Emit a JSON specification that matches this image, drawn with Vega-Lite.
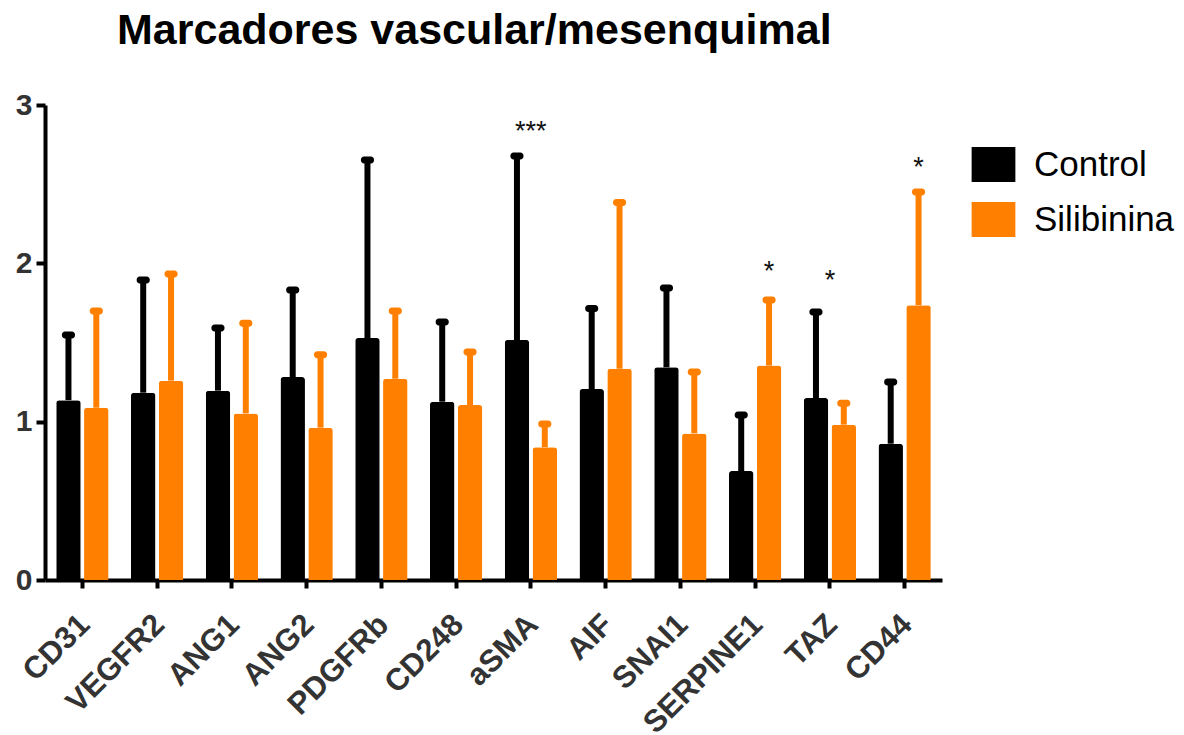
{
  "$schema": "https://vega.github.io/schema/vega-lite/v6.json",
  "width": 897,
  "height": 475,
  "autosize": {"type": "none"},
  "padding": {"left": 45, "top": 105, "right": 242, "bottom": 155},
  "background": "white",
  "config": {"view": {"stroke": null}, "font": "Liberation Sans"},
  "title": {
    "text": "Marcadores vascular/mesenquimal",
    "anchor": "start",
    "frame": "group",
    "dx": 72,
    "fontSize": 43,
    "fontWeight": "bold",
    "color": "black",
    "font": "Liberation Sans",
    "baseline": "alphabetic",
    "offset": 3
  },
  "datasets": {
    "bars": [
      {"gene": "CD31", "group": "Control", "mean": 1.136, "upper": 1.547},
      {"gene": "CD31", "group": "Silibinina", "mean": 1.088, "upper": 1.699},
      {"gene": "VEGFR2", "group": "Control", "mean": 1.183, "upper": 1.895},
      {"gene": "VEGFR2", "group": "Silibinina", "mean": 1.259, "upper": 1.932},
      {"gene": "ANG1", "group": "Control", "mean": 1.196, "upper": 1.591},
      {"gene": "ANG1", "group": "Silibinina", "mean": 1.052, "upper": 1.621},
      {"gene": "ANG2", "group": "Control", "mean": 1.282, "upper": 1.831},
      {"gene": "ANG2", "group": "Silibinina", "mean": 0.962, "upper": 1.423},
      {"gene": "PDGFRb", "group": "Control", "mean": 1.528, "upper": 2.653},
      {"gene": "PDGFRb", "group": "Silibinina", "mean": 1.271, "upper": 1.699},
      {"gene": "CD248", "group": "Control", "mean": 1.126, "upper": 1.629},
      {"gene": "CD248", "group": "Silibinina", "mean": 1.105, "upper": 1.44},
      {"gene": "aSMA", "group": "Control", "mean": 1.516, "upper": 2.678},
      {"gene": "aSMA", "group": "Silibinina", "mean": 0.838, "upper": 0.985},
      {"gene": "AIF", "group": "Control", "mean": 1.206, "upper": 1.714},
      {"gene": "AIF", "group": "Silibinina", "mean": 1.335, "upper": 2.385},
      {"gene": "SNAI1", "group": "Control", "mean": 1.343, "upper": 1.844},
      {"gene": "SNAI1", "group": "Silibinina", "mean": 0.926, "upper": 1.313},
      {"gene": "SERPINE1", "group": "Control", "mean": 0.688, "upper": 1.042},
      {"gene": "SERPINE1", "group": "Silibinina", "mean": 1.354, "upper": 1.768},
      {"gene": "TAZ", "group": "Control", "mean": 1.149, "upper": 1.692},
      {"gene": "TAZ", "group": "Silibinina", "mean": 0.981, "upper": 1.116},
      {"gene": "CD44", "group": "Control", "mean": 0.861, "upper": 1.25},
      {"gene": "CD44", "group": "Silibinina", "mean": 1.735, "upper": 2.45}
    ],
    "starsGroup": [
      {"gene": "aSMA", "label": "***", "pos": 2.781},
      {"gene": "TAZ", "label": "*", "pos": 1.836}
    ],
    "starsBar": [
      {"gene": "SERPINE1", "group": "Silibinina", "label": "*", "pos": 1.895},
      {"gene": "CD44", "group": "Silibinina", "label": "*", "pos": 2.552}
    ]
  },
  "encoding": {
    "x": {
      "field": "gene",
      "type": "nominal",
      "sort": ["CD31", "VEGFR2", "ANG1", "ANG2", "PDGFRb", "CD248", "aSMA", "AIF", "SNAI1", "SERPINE1", "TAZ", "CD44"],
      "scale": {"paddingInner": 0.3, "paddingOuter": 0.15},
      "axis": {
        "title": null,
        "labelAngle": -45,
        "labelAlign": "right",
        "labelBaseline": "alphabetic",
        "labelFontSize": 31,
        "labelFontWeight": "bold",
        "labelColor": "#333333",
        "labelFont": "Liberation Sans",
        "labelPadding": 38,
        "labelOffset": 9,
        "labelOverlap": false,
        "tickSize": 8,
        "tickWidth": 4,
        "tickColor": "black",
        "domainColor": "black",
        "domainWidth": 4,
        "grid": false
      }
    }
  },
  "layer": [
    {
      "data": {"name": "bars"},
      "mark": {"type": "bar", "cornerRadiusTopLeft": 3, "cornerRadiusTopRight": 3},
      "encoding": {
        "xOffset": {"field": "group", "type": "nominal", "scale": {"paddingInner": 0.12, "paddingOuter": 0}},
        "y": {
          "field": "mean",
          "type": "quantitative",
          "scale": {"domain": [0, 3], "nice": false},
          "axis": {
            "title": null,
            "values": [0, 1, 2, 3],
            "format": "d",
            "grid": false,
            "labelFontSize": 30,
            "labelFontWeight": "bold",
            "labelColor": "#333333",
            "labelFont": "Liberation Sans",
            "labelPadding": 4,
            "tickSize": 9,
            "tickWidth": 4,
            "tickColor": "black",
            "domainColor": "black",
            "domainWidth": 4
          }
        },
        "color": {
          "field": "group",
          "type": "nominal",
          "scale": {"domain": ["Control", "Silibinina"], "range": ["#000000", "#FF8000"]},
          "legend": {
            "title": null,
            "orient": "none",
            "legendX": 931,
            "legendY": 42,
            "padding": 0,
            "symbolType": "M-1.25,-1H1.25V1H-1.25Z",
            "symbolSize": 1225,
            "symbolStrokeWidth": 0,
            "labelFontSize": 35,
            "labelFont": "Liberation Sans",
            "labelColor": "black",
            "labelOffset": 23,
            "rowPadding": 19
          }
        }
      }
    },
    {
      "data": {"name": "bars"},
      "mark": {"type": "rule", "strokeWidth": 6},
      "encoding": {
        "xOffset": {"field": "group", "type": "nominal"},
        "y": {"field": "mean", "type": "quantitative"},
        "y2": {"field": "upper"},
        "color": {"field": "group", "type": "nominal", "legend": null}
      }
    },
    {
      "data": {"name": "bars"},
      "mark": {"type": "tick", "size": 13, "thickness": 7, "cornerRadius": 3, "opacity": 1, "xOffset": 2},
      "encoding": {
        "xOffset": {"field": "group", "type": "nominal"},
        "y": {"field": "upper", "type": "quantitative"},
        "color": {"field": "group", "type": "nominal", "legend": null}
      }
    },
    {
      "data": {"name": "starsGroup"},
      "mark": {"type": "text", "fontSize": 27, "font": "Liberation Sans", "color": "#111111", "baseline": "alphabetic"},
      "encoding": {
        "y": {"field": "pos", "type": "quantitative"},
        "text": {"field": "label"}
      }
    },
    {
      "data": {"name": "starsBar"},
      "mark": {"type": "text", "fontSize": 27, "font": "Liberation Sans", "color": "#111111", "baseline": "alphabetic"},
      "encoding": {
        "xOffset": {"field": "group", "type": "nominal"},
        "y": {"field": "pos", "type": "quantitative"},
        "text": {"field": "label"}
      }
    }
  ],
  "resolve": {"legend": {"color": "independent"}}
}
